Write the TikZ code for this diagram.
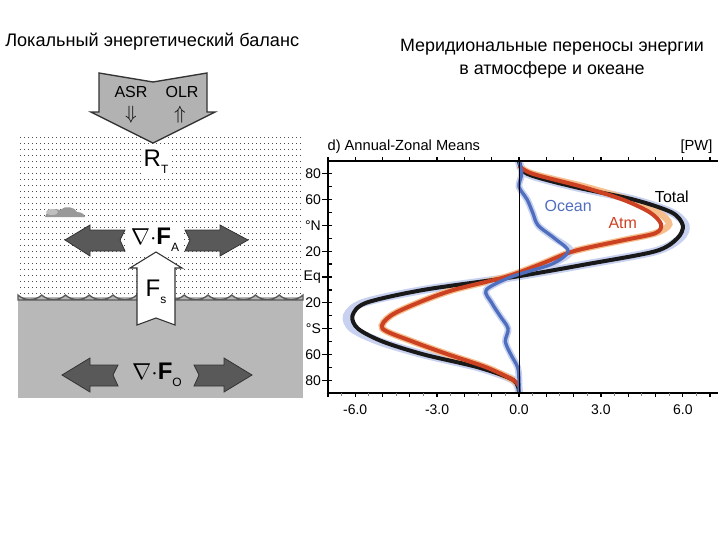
\documentclass[tikz,border=0pt]{standalone}
\usepackage{fontspec}
\setmainfont{Liberation Sans}
\definecolor{atmred}{RGB}{205,65,35}
\definecolor{ocblue}{RGB}{80,110,190}
\definecolor{halo}{RGB}{200,210,240}
\definecolor{atmhalo}{RGB}{245,190,140}
\begin{document}
\begin{tikzpicture}[x=0.75pt,y=-0.75pt,
  darr/.style={fill=black!65,draw=black!80,line width=0.6pt},
  curve/.style={line width=3pt,smooth,line join=round},
  lbl/.style={font=\fontsize{10.5}{11}\selectfont,inner sep=1pt}]
\useasboundingbox (0,0) rectangle (720,540);
% titles
\node[anchor=west,font=\fontsize{13.6}{15}\selectfont,inner sep=0pt] (t1) at (5,42) {Локальный энергетический баланс};
\node[align=center,font=\fontsize{13.4}{17}\selectfont] (t2) at (552,59) {Меридиональные переносы энергии\\в атмосфере и океане};
% left panel
\fill[black!28] (18,297) rectangle (303,398);
\foreach \yy in {137,143,...,293}{\foreach \xx in {20,24,...,302}{\fill[black!70] (\xx,\yy) rectangle ++(1.3,1.3);}}
\draw[black!65,line width=1pt,fill=black!28] (18,295) \foreach \i in {0,...,11}{ .. controls +(6,6) and +(-6,6) .. ++(23.75,0)} -- (303,300) -- (18,300) -- cycle;
% top arrow
\draw[fill=black!30,draw=black!80,line width=1pt] (99,73) -- (153,82) -- (207,73) -- (207,112) -- (215,112) -- (153,143) -- (91,112) -- (99,112) -- cycle;
\node (asr) at (131,92) {\fontsize{12}{12}\selectfont ASR};
\node (olr) at (182,92) {\fontsize{12}{12}\selectfont OLR};
\node (da) at (131,115) {\fontsize{15}{15}\selectfont$\Downarrow$};
\node (ua) at (180,115) {\fontsize{15}{15}\selectfont$\Uparrow$};
\node[fill=white,inner sep=2pt] (rt) at (156,162) {\fontsize{18}{18}\selectfont R\raisebox{-5pt}{\fontsize{9}{9}\selectfont T}};
% cloud
\fill[black!40] (45,217) .. controls (48,208) and (55,208) .. (60,210) .. controls (65,205) and (75,207) .. (77,212) .. controls (82,212) and (85,215) .. (85,217) -- cycle;
\fill[black!25] (52,212) ellipse (6 and 3);
% F_A arrows
\draw[darr] (125,230) -- (90,230) -- (90,225) -- (65,240) -- (90,256) -- (90,251) -- (125,251) -- (120,240) -- cycle;
\draw[darr] (185,230) -- (220,230) -- (220,225) -- (248,240) -- (220,256) -- (220,251) -- (185,251) -- (190,240) -- cycle;
\node[fill=white,inner sep=2pt] (fa) at (155,240) {\fontsize{18}{18}\selectfont$\nabla$$\cdot$\textbf{F}\raisebox{-5pt}{\fontsize{9}{9}\selectfont A}};
% F_s arrow
\draw[fill=white,draw=black!80,line width=0.8pt] (137,325) -- (137,268) -- (130,268) -- (156,252) -- (182,268) -- (175,268) -- (175,325) -- (156,318) -- cycle;
\node (fs) at (156,292) {\fontsize{18}{18}\selectfont F\raisebox{-5pt}{\fontsize{9}{9}\selectfont s}};
% F_O arrows
\draw[darr] (118,365) -- (90,365) -- (90,358) -- (62,375) -- (90,392) -- (90,386) -- (118,386) -- (113,375) -- cycle;
\draw[darr] (194,365) -- (224,365) -- (224,358) -- (252,375) -- (224,392) -- (224,386) -- (194,386) -- (199,375) -- cycle;
\node (fo) at (157,375) {\fontsize{18}{18}\selectfont$\nabla$$\cdot$\textbf{F}\raisebox{-5pt}{\fontsize{9}{9}\selectfont O}};
% right panel
\node[lbl,anchor=west,font=\fontsize{11}{11}\selectfont] (ttl) at (326,147) {d) Annual-Zonal Means};
\node[lbl,anchor=east,font=\fontsize{11}{11}\selectfont] (pw) at (714,147) {[PW]};
\begin{scope}[shift={(519,277)},x=20.475pt,y=0.9675pt]
 \begin{scope}
 \clip (-7,-90) rectangle (7,90);
 \draw[line width=6pt,halo,smooth] plot coordinates {(0,90)(0.3,80)(2.0,70)(4.2,60)(5.6,50)(6.1,40)(5.9,30)(5.0,20)(2.5,10)(-0.2,0)(-3.5,-10)(-5.7,-20)(-6.3,-30)(-6.1,-40)(-5.1,-50)(-3.5,-60)(-1.5,-70)(-0.2,-80)(0,-90)};
 \draw[line width=5pt,atmhalo,smooth] plot coordinates {(0,86)(0.5,80)(2.4,70)(4.0,60)(5.1,50)(5.5,41)(5.0,34)(3.7,28)(2.0,20)(0.8,10)(-0.5,0)(-2.4,-10)(-3.7,-20)(-4.7,-30)(-5.0,-40)(-3.9,-50)(-2.6,-60)(-1.2,-70)(-0.2,-80)(0,-85)};
 \draw[line width=5pt,halo,smooth] plot coordinates {(0,90)(0.1,80)(0.0,70)(0.3,60)(0.5,50)(0.7,40)(1.3,30)(1.9,20)(1.2,10)(-0.3,0)(-1.2,-10)(-1.0,-20)(-0.7,-30)(-0.4,-40)(-0.5,-50)(-0.3,-60)(-0.05,-70)(0,-80)(0,-90)};
 \draw[curve,black!90] plot coordinates {(0,90)(0.3,80)(2.0,70)(4.2,60)(5.6,50)(6.0,40)(5.8,30)(5.0,20)(2.5,10)(-0.2,0)(-3.5,-10)(-5.6,-20)(-6.1,-30)(-5.9,-40)(-5.0,-50)(-3.5,-60)(-1.5,-70)(-0.2,-80)(0,-90)};
 \draw[curve,atmred] plot coordinates {(0,86)(0.5,80)(2.3,70)(3.8,60)(4.8,50)(5.2,41)(5.0,34)(3.7,28)(2.0,20)(0.8,10)(-0.5,0)(-2.4,-10)(-3.7,-20)(-4.7,-30)(-5.0,-40)(-3.9,-50)(-2.6,-60)(-1.2,-70)(-0.2,-80)(0,-85)};
 \draw[curve,line width=2.5pt,ocblue] plot coordinates {(0,90)(0.1,80)(0.0,70)(0.3,60)(0.5,50)(0.7,40)(1.3,30)(1.8,20)(1.2,10)(-0.3,0)(-1.2,-10)(-1.0,-20)(-0.7,-30)(-0.4,-40)(-0.5,-50)(-0.3,-60)(-0.05,-70)(0,-80)(0,-90)};
 \end{scope}
 \draw[line width=0.6pt] (0,-90) -- (0,90);
 \draw[line width=1.6pt] (-7,90) -- (-7,-90) -- (7.3,-90);
 \draw[line width=1.6pt] (-7,90) -- (7.3,90);
 \foreach \v in {-7,...,7}{\draw[line width=1pt] (\v,-90) -- ++(0,-3); \draw[line width=1pt] (\v,90) -- ++(0,3);}
 \foreach \v in {-6.5,-5.5,...,6.5}{\draw[line width=0.7pt,black!50] (\v,-90) -- ++(0,-2);}
 \foreach \l in {-90,-80,...,90}{\draw[line width=1pt] (-7,\l) -- ++(0.15,0);}
 \foreach \l in {-80,-60,...,80}{\draw[line width=1pt] (-7,\l) -- ++(-0.2,0);}
 \foreach \v/\t in {-6/-6.0,-3/-3.0,0/0.0,3/3.0,6/6.0}{\node[lbl] (x\v) at (\v,-103) {\t};}
 \foreach \l/\t in {80/80,60/60,40/°N,20/20,0/Eq,-20/20,-40/°S,-60/60,-80/80}{\node[lbl,anchor=east] (y\l) at (-7.2,\l) {\t};}
 \node[font=\fontsize{12}{12}\selectfont] (tot) at (5.6,62) {Total};
 \node[font=\fontsize{12}{12}\selectfont,ocblue] (oc) at (1.8,55) {Ocean};
 \node[font=\fontsize{12}{12}\selectfont,atmred] (atm) at (3.8,42) {Atm};
\end{scope}
\end{tikzpicture}
\end{document}
